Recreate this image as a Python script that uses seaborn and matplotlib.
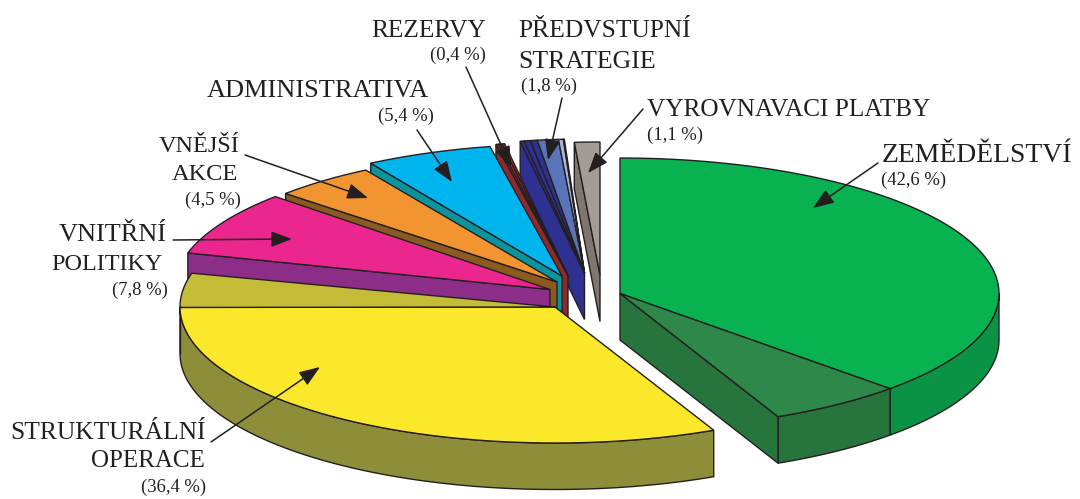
import numpy as np
import matplotlib
matplotlib.use("Agg")
import matplotlib.pyplot as plt
import seaborn as sns

# ---- data -------------------------------------------------------------
categories = ["ZEMĚDĚLSTVÍ", "STRUKTURÁLNÍ OPERACE", "VNITŘNÍ POLITIKY", "VNĚJŠÍ AKCE",
              "ADMINISTRATIVA", "REZERVY", "PŘEDVSTUPNÍ STRATEGIE", "VYROVNAVACI PLATBY"]
shares = [42.6, 36.4, 7.8, 4.5, 5.4, 0.4, 1.8, 1.1]
# internal subdivisions of each slice, in clockwise order
agri_parts = [36.9, 5.7]
struct_parts = [32.3, 4.1]
reserve_parts = [0.13, 0.14, 0.13]
pre_parts = [0.16, 0.25, 0.29, 0.86, 0.2, 0.04]
percent_labels = ["(42,6 %)", "(36,4 %)", "(7,8 %)", "(4,5 %)", "(5,4 %)", "(0,4 %)", "(1,8 %)", "(1,1 %)"]

# ---- style / layout ----------------------------------------------------
INK = "#231f20"
parts = [agri_parts, struct_parts, [7.8], [4.5], [5.4], reserve_parts, pre_parts, [1.1]]
top_cols = [["#08b250", "#2d884a"], ["#fce82a", "#c4bc36"], ["#ec268f"], ["#f29530"], ["#00b4ee"],
            ["#9e2a2c", "#e1262b", "#9e2a2c"],
            ["#2e3192", "#2e3192", "#2e3192", "#5a74b8", "#aab4dc", "#3a5cab"], ["#a59b96"]]
side_cols = [["#0a9344", "#27753d"], ["#8e8d3a", "#8e8d3a"], ["#8c2d88"], ["#8a5a20"], ["#0b949e"],
             ["#8e2a2c"] * 3, ["#2e3192"] * 6, ["#7f7670"]]
apex = [(620, 293.5), (555, 307), (550, 289.5), (557, 282), (562, 276), (568, 275.5), (584.5, 273), (600, 275)]
rx = [379, 375, 376, 368, 368, 350, 355, 372]
ry = [135.5, 136, 136, 131, 132, 134, 134, 133]
depth = 46.5
start_nudge = [0, -1.6, -1.2, 0, 0, 0, 0, 0]
end_nudge = [-2.0, 0, -0.6, 0, -0.6, 0, -0.7, 0]
draw_order = [7, 6, 5, 4, 3, 2, 1, 0]

sns.set_theme(style="white", rc={"font.family": ["Liberation Serif", "DejaVu Serif"]})
fig = plt.figure(figsize=(10.8, 4.99), dpi=100, facecolor="white")
ax = fig.add_axes([0, 0, 1, 1])
ax.set_xlim(0, 1080)
ax.set_ylim(499, 0)
ax.axis("off")

cum = np.concatenate([[0], np.cumsum(shares)])
edges = 90 - cum * 3.6


def arc(i, a0, a1, n=90):
    t = np.radians(np.linspace(a0, a1, n))
    return apex[i][0] + rx[i] * np.cos(t), apex[i][1] - ry[i] * np.sin(t)


def poly(xs, ys, col, z):
    ax.fill(xs, ys, facecolor=col, edgecolor=INK, linewidth=1.0, joinstyle="miter", zorder=z)


z = 1
for i in draw_order:
    a0 = edges[i] + start_nudge[i]
    a1 = edges[i + 1] + end_nudge[i]
    ax0, ay0 = apex[i]
    fr = np.concatenate([[0], np.cumsum(parts[i])]) / sum(parts[i])
    sub = a0 + (a1 - a0) * fr
    # outer rim, only where it faces the viewer
    for k in range(len(parts[i])):
        lo, hi = sorted((sub[k], sub[k + 1]))
        s, e = max(lo, -180), min(hi, 0)
        if e > s:
            xs, ys = arc(i, s, e)
            poly(np.r_[xs, xs[::-1]], np.r_[ys, ys[::-1] + depth], side_cols[i][k], z)
            z += 1
    # cut face on the radial edge that faces the viewer
    if i != 1:
        j = -1 if i == 0 else 0
        xe, ye = arc(i, sub[j], sub[j], 1)
        poly([ax0, xe[0], xe[0], ax0], [ay0, ye[0], ye[0] + depth, ay0 + depth], side_cols[i][j], z)
        z += 1
    # top faces
    for k in range(len(parts[i])):
        xs, ys = arc(i, sub[k], sub[k + 1])
        poly(np.r_[ax0, xs], np.r_[ay0, ys], top_cols[i][k], z)
        z += 1

TZ = 500
small = 13.4
label_spec = [
    ("ZEMĚDĚLSTVÍ", 882, 162, "left", 19.9), (percent_labels[0], 881, 185, "left", small),
    ("STRUKTURÁLNÍ", 206, 439, "right", 18.4), ("OPERACE", 205, 467, "right", 18.0), (percent_labels[1], 206, 492, "right", small),
    ("VNITŘNÍ", 167, 241, "right", 18.9), ("POLITIKY", 163, 270, "right", 17.4), (percent_labels[2], 168, 295, "right", small),
    ("VNĚJŠÍ", 240, 152, "right", 17.5), ("AKCE", 238, 180, "right", 17.6), (percent_labels[3], 241, 205, "right", small),
    ("ADMINISTRATIVA", 207, 97, "left", 19.0), (percent_labels[4], 434, 121, "right", small),
    ("REZERVY", 371, 37, "left", 18.2), (percent_labels[5], 486, 60, "right", small),
    ("PŘEDVSTUPNÍ", 518, 37, "left", 18.4), ("STRATEGIE", 518, 68, "left", 18.6), (percent_labels[6], 521, 91, "left", small),
    ("VYROVNAVACI PLATBY", 647, 116, "left", 18.2), (percent_labels[7], 647, 140, "left", small),
]
for s, x, y, ha, fs in label_spec:
    ax.text(x, y, s, ha=ha, va="baseline", fontsize=fs, color=INK, zorder=TZ)

arrows = [((878, 163), (813, 208)), ((643, 109), (588, 173)), ((562, 98), (548, 160)),
          ((466, 67), (511, 167)), ((417, 130), (452, 182)), ((245, 155), (368, 198)),
          ((173, 240), (292, 239)), ((211, 442), (320, 367))]
for st, tip in arrows:
    ax.annotate("", xy=tip, xytext=st, zorder=TZ,
                arrowprops=dict(arrowstyle="-|>,head_length=0.85,head_width=0.32", color=INK, lw=1.1,
                                shrinkA=0, shrinkB=0, mutation_scale=15))

fig.savefig("out.png", dpi=100, facecolor="white")
